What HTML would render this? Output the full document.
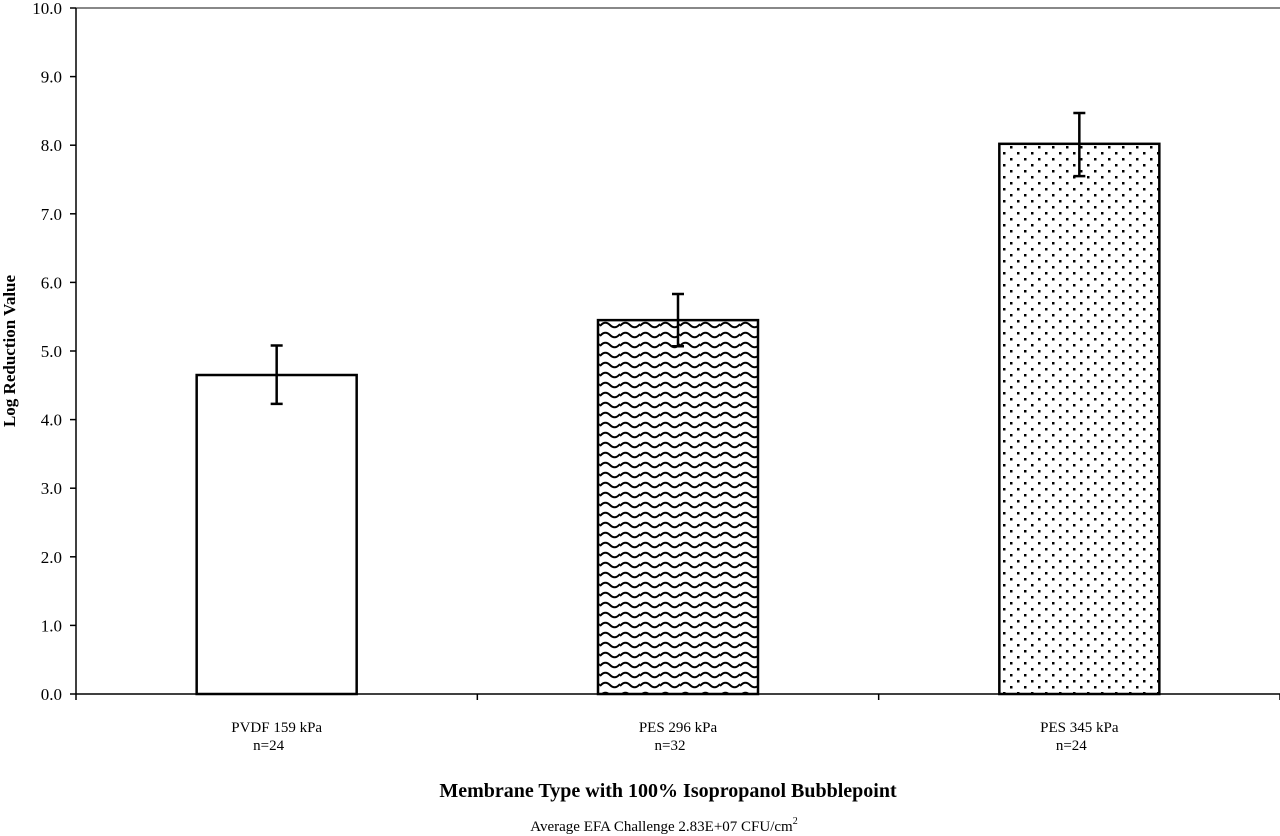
<!DOCTYPE html>
<html><head><meta charset="utf-8"><style>
body{margin:0;background:#fff;}
svg{display:block;font-family:"Liberation Serif",serif;}
</style></head><body>
<svg id="chart" width="1280" height="836" viewBox="0 0 1280 836">
<defs>
<pattern id="wave" width="20" height="10" patternUnits="userSpaceOnUse">
<rect width="20" height="10" fill="#fff"/>
<path d="M0,6 Q5,0 10,5 Q15,10 20,4" fill="none" stroke="#000" stroke-width="2"/>
</pattern>
<pattern id="dots" width="14" height="12" patternUnits="userSpaceOnUse">
<rect width="14" height="12" fill="#fff"/>
<rect x="2" y="2" width="2.5" height="2.5" fill="#000"/>
<rect x="9" y="8" width="2.5" height="2.5" fill="#000"/>
</pattern>
</defs>
<g id="plot"></g>
<text transform="translate(15,351) rotate(-90)" text-anchor="middle" font-size="17" font-weight="bold">Log Reduction Value</text>
<text x="668" y="797" text-anchor="middle" font-size="20" font-weight="bold">Membrane Type with 100% Isopropanol Bubblepoint</text>
<text x="664" y="831" text-anchor="middle" font-size="15">Average EFA Challenge 2.83E+07  CFU/cm<tspan dy="-7" font-size="10">2</tspan></text>
</svg>
<script>
const categories=["PVDF 159 kPa","PES 296 kPa","PES 345 kPa"];
const nLabels=["n=24","n=32","n=24"];
const values=[4.65,5.45,8.02];
const errHigh=[5.08,5.83,8.47];
const errLow=[4.23,5.07,7.55];
const yTicks=[0,1,2,3,4,5,6,7,8,9,10];
const fills=["#fff","url(#wave)","url(#dots)"];
const NS="http://www.w3.org/2000/svg";
const g=document.getElementById('plot');
const x0=76,x1=1280,y0=694,y1=8;
const Y=v=>y0-(v/10)*(y0-y1);
const bandW=(x1-x0)/categories.length;
const X=i=>x0+bandW*(i+0.5);
function mk(t,a){const e=document.createElementNS(NS,t);for(const k in a)e.setAttribute(k,a[k]);g.appendChild(e);return e;}
let e=mk('line',{x1:x0,y1:y1,x2:x1,y2:y1,stroke:'#888','stroke-width':2});


e=mk('line',{x1:x0,y1:y1,x2:x0,y2:y0,stroke:'#000','stroke-width':1.5});


e=mk('line',{x1:x0,y1:y0,x2:x1,y2:y0,stroke:'#000','stroke-width':1.5});


yTicks.forEach(v=>{
 let t=mk('line',{x1:x0-6,y1:Y(v),x2:x0,y2:Y(v),stroke:'#000','stroke-width':1.5});
 
 
 let l=mk('text',{x:x0-14,y:Y(v)+6,'text-anchor':'end','font-size':17});
 
 
 l.textContent=v.toFixed(1);
});
for(let i=0;i<=categories.length;i++){
 let t=mk('line',{x1:x0+bandW*i,y1:y0,x2:x0+bandW*i,y2:y0+6,stroke:'#000','stroke-width':1.5});
 
 
}
const bw=160;
categories.forEach((c,i)=>{
 const cx=X(i);
 let b=mk('rect',{x:cx-bw/2,y:Y(values[i]),width:bw,height:y0-Y(values[i]),fill:fills[i],stroke:'#000','stroke-width':2.5});
 
 
 let er=mk('path',{d:`M${cx-6},${Y(errHigh[i])}H${cx+6}M${cx},${Y(errHigh[i])}V${Y(errLow[i])}M${cx-6},${Y(errLow[i])}H${cx+6}`,stroke:'#000','stroke-width':2.5,fill:'none'});
 
 
 let l=mk('text',{x:cx,y:732,'text-anchor':'middle','font-size':15});
 
 
 l.textContent=c;
 let n=mk('text',{x:cx-8,y:750,'text-anchor':'middle','font-size':15});
 
 
 n.textContent=nLabels[i];
});
</script>
</body></html>
